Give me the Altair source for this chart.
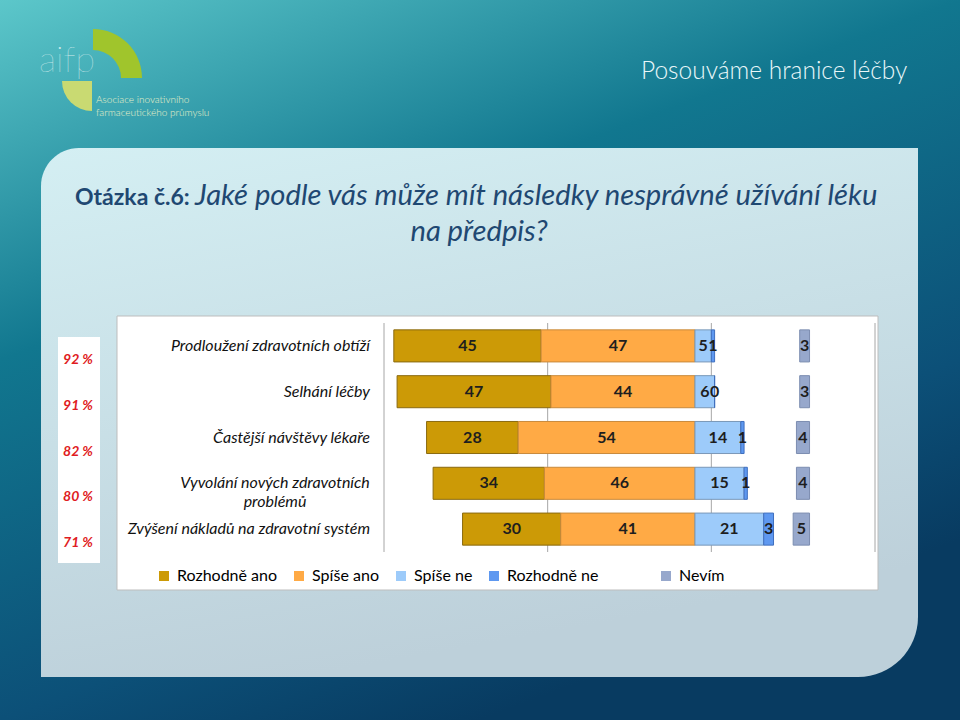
import math
import altair as alt
import pandas as pd

# ---------------- data ----------------
categories = [
    "Prodloužení zdravotních obtíží",
    "Selhání léčby",
    "Častější návštěvy lékaře",
    "Vyvolání nových zdravotních problémů",
    "Zvýšení nákladů na zdravotní systém",
]
category_lines = [
    "Prodloužení zdravotních obtíží",
    "Selhání léčby",
    "Častější návštěvy lékaře",
    "Vyvolání nových zdravotních\nproblémů",
    "Zvýšení nákladů na zdravotní systém",
]
series = ["Rozhodně ano", "Spíše ano", "Spíše ne", "Rozhodně ne", "Nevím"]
rozhodne_ano = [45, 47, 28, 34, 30]
spise_ano = [47, 44, 54, 46, 41]
spise_ne = [5, 6, 14, 15, 21]
rozhodne_ne = [1, 0, 1, 1, 3]
nevim = [3, 3, 4, 4, 5]

fill_colors = ["#CC9A06", "#FFAA45", "#9DCBFA", "#5E98F0", "#97A8CC"]
stroke_colors = ["#8A6A10", "#C98A3C", "#7A98B8", "#3F6FBE", "#7C8DB0"]
SPACER = "xi"   # invisible legend entry that only widens the gap before "Nevím"

NEVIM_END = 35          # right end of the separate "Nevím" column (axis units)
X_DOMAIN = [-95, 55]
GRID_VALUES = [-95, -45, 5, 55]

# ---------------- tables ----------------
seg_rows = []
for i, c in enumerate(categories):
    a, b, s, d, e = rozhodne_ano[i], spise_ano[i], spise_ne[i], rozhodne_ne[i], nevim[i]
    parts = [
        (series[0], -(a + b), -b, a),
        (series[1], -b, 0, b),
        (series[2], 0, s, s),
        (series[3], s, s + d, d),
        (series[4], NEVIM_END - e, NEVIM_END, e),
    ]
    for name, x0, x1, v in parts:
        seg_rows.append({"cat": c, "series": name, "x0": x0, "x1": x1,
                         "mid": (x0 + x1) / 2, "val": v})
seg = pd.DataFrame(seg_rows)

cat_df = pd.DataFrame({
    "cat": categories,
    "label": category_lines,
    "pct": [f"{a + b} %" for a, b in zip(rozhodne_ano, spise_ano)],
})
single = cat_df[~cat_df["label"].str.contains("\n")]
wrapped = cat_df[cat_df["label"].str.contains("\n")]

grid_df = pd.DataFrame({"v": GRID_VALUES})
one = pd.DataFrame({"k": [0]})

xscale = alt.Scale(domain=X_DOMAIN, range=[384, 875], nice=False, zero=False)
yscale = alt.Scale(domain=categories, range=[323, 552], paddingInner=0.3, paddingOuter=0.15)

FONT = "Lato"

# ---------------- decoration ----------------
base = alt.Chart(one)

bg = base.mark_rect(fill={
    "gradient": "linear", "x1": 0, "y1": 0, "x2": 0.5, "y2": 1,
    "stops": [
        {"offset": 0, "color": "#5cc7ca"},
        {"offset": 0.4, "color": "#11778f"},
        {"offset": 0.8, "color": "#0c5078"},
        {"offset": 1, "color": "#083b61"},
    ]}).encode(x=alt.value(0), x2=alt.value(960), y=alt.value(0), y2=alt.value(720))

panel = base.mark_rect(
    cornerRadiusTopLeft=38, cornerRadiusBottomRight=60,
    fill={"gradient": "linear", "x1": 0, "y1": 0, "x2": 0.3, "y2": 1,
          "stops": [{"offset": 0, "color": "#d4eff3"},
                    {"offset": 1, "color": "#bdd0da"}]},
).encode(x=alt.value(41), x2=alt.value(918), y=alt.value(148), y2=alt.value(677))

ring = base.mark_arc(theta=0, theta2=math.pi / 2, innerRadius=28, outerRadius=49,
                     color="#a0c52c").encode(x=alt.value(93), y=alt.value(78))
quarter = base.mark_arc(theta=math.pi, theta2=3 * math.pi / 2, innerRadius=0, outerRadius=30,
                        color="#c9da72").encode(x=alt.value(92), y=alt.value(81))
logo_txt = base.mark_text(font=FONT, fontSize=36, fontWeight=100, color="#e6f6f6",
                          opacity=0.85, align="left", baseline="alphabetic").encode(
    x=alt.value(39), y=alt.value(72), text=alt.value("aifp"))
logo_sub = base.mark_text(font=FONT, fontSize=10, fontWeight=300, color="#e8f0c8",
                          align="left", baseline="middle", lineBreak="\n",
                          lineHeight=13).encode(
    x=alt.value(96), y=alt.value(100),
    text=alt.value("Asociace inovativního\nfarmaceutického průmyslu"))

slogan = base.mark_text(font=FONT, fontSize=24.5, fontWeight=300, color="#eaf7f9",
                        align="left", baseline="middle").encode(
    x=alt.value(641), y=alt.value(72), text=alt.value("Posouváme hranice léčby"))

TITLE_COLOR = "#1f4872"
t_bold = base.mark_text(font=FONT, fontSize=23, fontWeight="bold", color=TITLE_COLOR,
                        align="left", baseline="alphabetic").encode(
    x=alt.value(75), y=alt.value(205), text=alt.value("Otázka č.6:"))
t_ital = base.mark_text(font=FONT, fontSize=29.2, fontStyle="italic", color=TITLE_COLOR,
                        align="left", baseline="alphabetic").encode(
    x=alt.value(195), y=alt.value(205),
    text=alt.value("Jaké podle vás může mít následky nesprávné užívání léku"))
t_line2 = base.mark_text(font=FONT, fontSize=29.2, fontStyle="italic", color=TITLE_COLOR,
                         align="center", baseline="alphabetic").encode(
    x=alt.value(479), y=alt.value(241), text=alt.value("na předpis?"))

chart_box = base.mark_rect(fill="white", stroke="#bdbdbd", strokeWidth=1).encode(
    x=alt.value(117), x2=alt.value(878), y=alt.value(316), y2=alt.value(590))
pct_box = base.mark_rect(fill="white").encode(
    x=alt.value(58), x2=alt.value(100), y=alt.value(337), y2=alt.value(563))

# ---------------- chart ----------------
grid = alt.Chart(grid_df).mark_rule(color="#a6a6a6", strokeWidth=1).encode(
    x=alt.X("v:Q", scale=xscale, axis=None), y=alt.value(323), y2=alt.value(552))

bars = alt.Chart(seg).mark_bar(strokeWidth=1).encode(
    x=alt.X("x0:Q", scale=xscale, axis=None),
    x2="x1:Q",
    y=alt.Y("cat:N", scale=yscale, axis=None, sort=categories),
    fill=alt.Fill("series:N",
                  scale=alt.Scale(domain=series[:4] + [SPACER] + series[4:],
                                  range=fill_colors[:4] + ["rgba(0,0,0,0)"] + fill_colors[4:]),
                  legend=alt.Legend(orient="none", legendX=156, legendY=568,
                                    direction="horizontal", title=None,
                                    symbolType="square", symbolSize=100,
                                    symbolStrokeWidth=0, labelFont=FONT,
                                    labelFontSize=16,
                                    labelColor={"expr": f"datum.label == '{SPACER}' ? 'rgba(0,0,0,0)' : '#000000'"},
                                    labelOffset=5, columnPadding=13, padding=0)),
    stroke=alt.Stroke("series:N", scale=alt.Scale(domain=series, range=stroke_colors),
                      legend=None),
)

val_labels = alt.Chart(seg).mark_text(font=FONT, fontWeight="bold", fontSize=16,
                                      color="#1e1e1e", baseline="middle").encode(
    x=alt.X("mid:Q", scale=xscale, axis=None),
    y=alt.Y("cat:N", scale=yscale, axis=None, sort=categories),
    text="val:Q",
)

cat_labels = alt.Chart(single).mark_text(font=FONT, fontSize=16, fontStyle="italic",
                                         color="#111111", align="right",
                                         baseline="middle").encode(
    x=alt.value(370),
    y=alt.Y("cat:N", scale=yscale, axis=None, sort=categories),
    text="label:N",
)
cat_wrapped = alt.Chart(wrapped).mark_text(font=FONT, fontSize=16, fontStyle="italic",
                                           color="#111111", align="center",
                                           baseline="middle", lineBreak="\n",
                                           lineHeight=19).encode(
    x=alt.value(275),
    y=alt.Y("cat:N", scale=yscale, axis=None, sort=categories),
    text="label:N",
)

pct_labels = alt.Chart(cat_df).mark_text(font=FONT, fontSize=14, fontStyle="italic",
                                         fontWeight="bold", color="#e01b22",
                                         align="center", baseline="middle", dy=14).encode(
    x=alt.value(78),
    y=alt.Y("cat:N", scale=yscale, axis=None, sort=categories),
    text="pct:N",
)

chart = alt.layer(
    bg, panel, ring, quarter, logo_txt, logo_sub, slogan,
    t_bold, t_ital, t_line2, chart_box, pct_box,
    grid, bars, val_labels, cat_labels, cat_wrapped, pct_labels,
).properties(
    width=960, height=720, padding=0,
    autosize=alt.AutoSizeParams(type="none"),
    background="#0b5a7a",
).configure_view(stroke=None)

chart.save("out.html", embed_options={"renderer": "svg", "actions": False})
